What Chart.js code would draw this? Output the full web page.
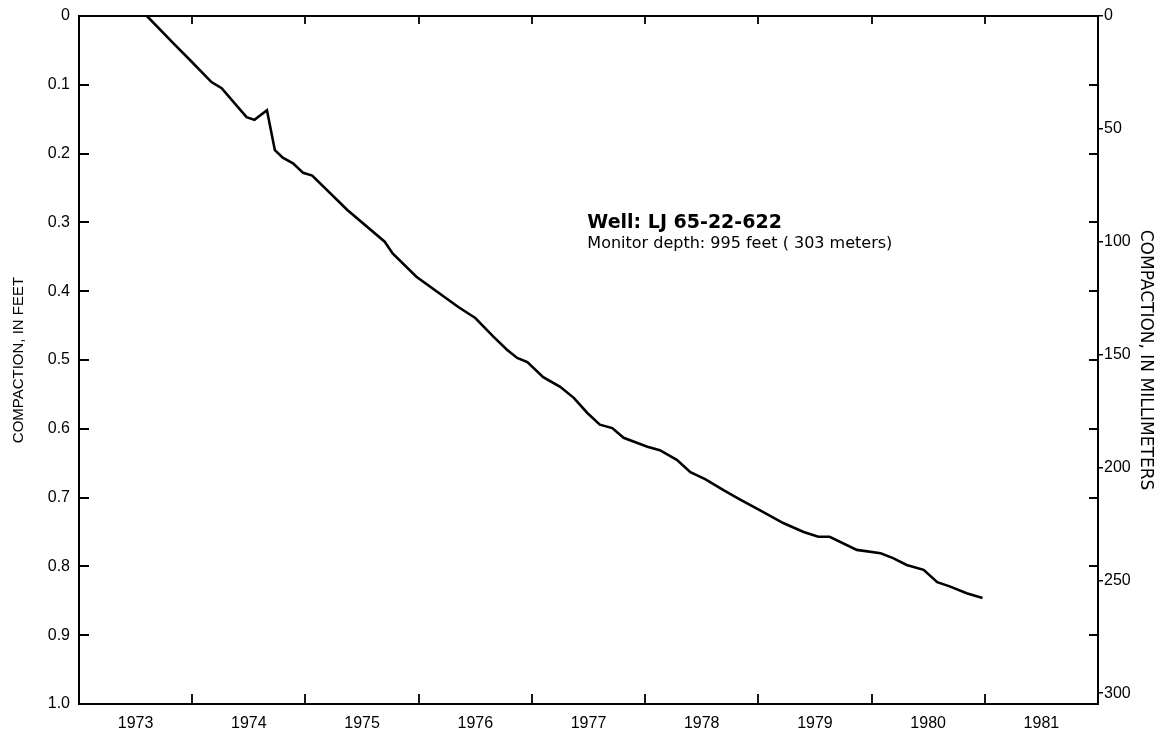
<!DOCTYPE html>
<html>
<head>
<meta charset="utf-8">
<script src="https://cdn.jsdelivr.net/npm/chart.js@4.4.1/dist/chart.umd.min.js"></script>
<style>
  html, body { margin: 0; padding: 0; background: #fff; }
  #wrap { width: 1157px; height: 731px; }
</style>
</head>
<body>
<div id="wrap"><canvas id="chart" width="1157" height="731"></canvas></div>
<script>
// values (decimal year, compaction in feet)
const years = [
  1973.60, 1973.83, 1973.98, 1974.17, 1974.26, 1974.48, 1974.55, 1974.66, 1974.73, 1974.80,
  1974.89, 1974.98, 1975.06, 1975.37, 1975.70, 1975.77, 1975.98, 1976.35, 1976.50, 1976.66,
  1976.78, 1976.87, 1976.96, 1977.10, 1977.25, 1977.37, 1977.49, 1977.60, 1977.71, 1977.81,
  1978.02, 1978.13, 1978.28, 1978.40, 1978.53, 1978.70, 1978.84, 1979.02, 1979.22, 1979.40,
  1979.53, 1979.63, 1979.87, 1980.08, 1980.19, 1980.31, 1980.46, 1980.58, 1980.69, 1980.84,
  1980.98
];
const compactionFt = [
  0.000, 0.039, 0.064, 0.096, 0.105, 0.147, 0.151, 0.137, 0.195, 0.206,
  0.214, 0.228, 0.232, 0.282, 0.328, 0.345, 0.379, 0.423, 0.439, 0.466,
  0.485, 0.497, 0.503, 0.525, 0.539, 0.555, 0.577, 0.594, 0.599, 0.613,
  0.626, 0.631, 0.645, 0.663, 0.673, 0.690, 0.703, 0.719, 0.737, 0.750,
  0.757, 0.757, 0.776, 0.781, 0.788, 0.798, 0.805, 0.823, 0.829, 0.839,
  0.846
];
const yearLabels = ['1973', '1974', '1975', '1976', '1977', '1978', '1979', '1980', '1981'];
const ftTicks = [0, 0.1, 0.2, 0.3, 0.4, 0.5, 0.6, 0.7, 0.8, 0.9, 1.0];
const mmTicks = [0, 50, 100, 150, 200, 250, 300];
const noteLines = ['Well: LJ 65-22-622', 'Monitor depth: 995 feet ( 303 meters)'];

const FONT = '"Liberation Sans", Arial, sans-serif';
const WIDE = '"DejaVu Sans", sans-serif';
const firstYear = Number(yearLabels[0]);
const lastYear = Number(yearLabels[yearLabels.length - 1]) + 1;

// frame, inward ticks and the well note
const framePlugin = {
  id: 'frame',
  afterDraw(chart) {
    const { ctx, chartArea: a, scales } = chart;
    const x = scales.x, y = scales.y;
    ctx.save();
    ctx.strokeStyle = '#000';
    ctx.lineWidth = 2;
    ctx.strokeRect(a.left, a.top, a.right - a.left, a.bottom - a.top);

    ctx.lineWidth = 1.8;
    ctx.beginPath();
    for (let yr = firstYear + 1; yr < lastYear; yr++) {
      const px = Math.round(x.getPixelForValue(yr));
      ctx.moveTo(px, a.bottom); ctx.lineTo(px, a.bottom - 10);
      ctx.moveTo(px, a.top); ctx.lineTo(px, a.top + 8);
    }
    ftTicks.slice(1, -1).forEach(v => {
      const py = Math.round(y.getPixelForValue(v));
      ctx.moveTo(a.left, py); ctx.lineTo(a.left + 10, py);
      ctx.moveTo(a.right, py); ctx.lineTo(a.right - 9, py);
    });
    ctx.stroke();

    ctx.fillStyle = '#000';
    ctx.textBaseline = 'alphabetic';
    const nx = x.getPixelForValue(1977.49);
    ctx.font = 'bold 19px ' + WIDE;
    ctx.fillText(noteLines[0], nx, y.getPixelForValue(0.308));
    ctx.font = '16px ' + WIDE;
    ctx.fillText(noteLines[1], nx, y.getPixelForValue(0.337));
    ctx.restore();
  }
};

new Chart(document.getElementById('chart'), {
  type: 'line',
  data: {
    datasets: [{
      data: years.map((yr, i) => ({ x: yr, y: compactionFt[i] })),
      borderColor: '#000',
      borderWidth: 2.6,
      pointRadius: 0,
      tension: 0,
      yAxisID: 'y',
    }],
  },
  options: {
    responsive: false,
    animation: false,
    layout: { padding: { top: 16, left: 0, right: 0, bottom: 0 } },
    plugins: { legend: { display: false }, tooltip: { enabled: false } },
    scales: {
      x: {
        type: 'linear',
        min: firstYear,
        max: lastYear,
        afterBuildTicks: s => { s.ticks = yearLabels.map(l => ({ value: Number(l) + 0.5 })); },
        afterFit: s => { s.height = 27; },
        grid: { display: false },
        border: { display: false },
        ticks: {
          color: '#000',
          padding: 2,
          maxRotation: 0,
          font: { family: FONT, size: 16 },
          callback: (v, i) => yearLabels[i],
        },
      },
      y: {
        type: 'linear',
        position: 'left',
        reverse: true,
        min: 0,
        max: 1,
        afterBuildTicks: s => { s.ticks = ftTicks.map(v => ({ value: v })); },
        afterFit: s => { s.width = 79; },
        grid: { display: false },
        border: { display: false },
        ticks: {
          color: '#000',
          padding: 1,
          font: { family: FONT, size: 16 },
          callback: v => (v === 0 ? '0' : v.toFixed(1)),
        },
        title: {
          display: true,
          text: 'COMPACTION, IN FEET',
          color: '#000',
          padding: { top: 10, bottom: 0 },
          font: { family: FONT, size: 15 },
        },
      },
      yMM: {
        type: 'linear',
        position: 'right',
        reverse: true,
        min: 0,
        max: 304.8,
        afterBuildTicks: s => { s.ticks = mmTicks.map(v => ({ value: v })); },
        afterFit: s => { s.width = 59; },
        grid: { drawOnChartArea: false, drawTicks: true, tickLength: 5, color: '#000', lineWidth: 1.5 },
        border: { display: false },
        ticks: {
          color: '#000',
          padding: 1,
          font: { family: FONT, size: 16 },
        },
        title: {
          display: true,
          text: 'COMPACTION, IN MILLIMETERS',
          color: '#000',
          padding: { top: 1, bottom: 0 },
          font: { family: WIDE, size: 17 },
        },
      },
    },
  },
  plugins: [framePlugin],
});
</script>
</body>
</html>
